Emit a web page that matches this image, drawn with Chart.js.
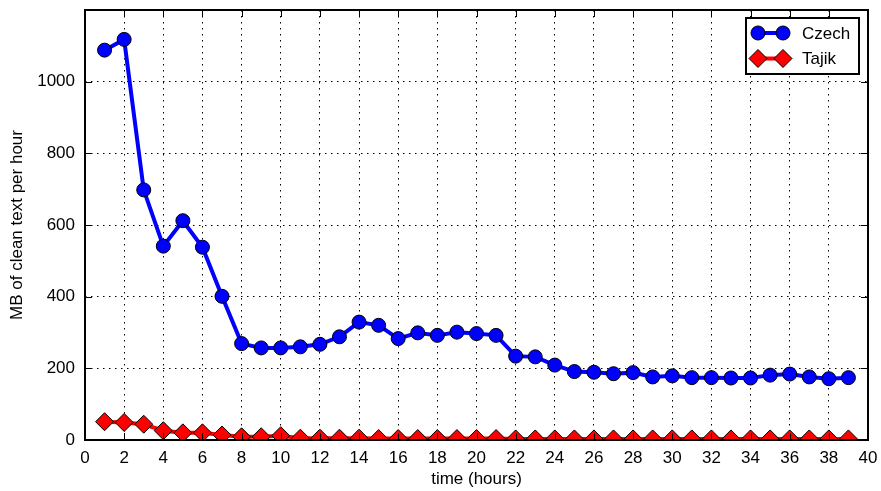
<!DOCTYPE html>
<html>
<head>
<meta charset="utf-8">
<title>MB of clean text per hour</title>
<script src="https://cdn.jsdelivr.net/npm/chart.js@4"></script>
<style>
    html, body { margin: 0; padding: 0; background: #fff; }
    #wrap { position: relative; width: 881px; height: 491px; }
</style>
</head>
<body>
<div id="wrap"><canvas id="chart"></canvas></div>
<script>
const hours = [1, 2, 3, 4, 5, 6, 7, 8, 9, 10, 11, 12, 13, 14, 15, 16, 17, 18, 19, 20,
    21, 22, 23, 24, 25, 26, 27, 28, 29, 30, 31, 32, 33, 34, 35, 36, 37, 38, 39];

const czechMB = [1088, 1118, 698, 541, 612, 538, 401, 269, 257, 257, 260, 267, 288, 329, 320,
    283, 299, 292, 301, 297, 292, 234, 232, 209, 191, 189, 185, 188, 176, 179,
    174, 174, 173, 173, 181, 184, 176, 171, 174];

const tajikMB = [51, 49, 44, 26, 20, 20, 14, 9, 9, 12, 5, 5, 5, 5, 4, 4, 4, 4, 4, 4,
    4, 3, 3, 3, 3, 3, 3, 3, 3, 3, 3, 3, 3, 3, 3, 3, 3, 3, 3];

const xTicks = [0, 2, 4, 6, 8, 10, 12, 14, 16, 18, 20, 22, 24, 26, 28, 30, 32, 34, 36, 38, 40];
const yTicks = [0, 200, 400, 600, 800, 1000];

const FONT = "'Liberation Sans', Arial, Helvetica, sans-serif";

const toPoints = values => values.map((v, i) => ({ x: hours[i], y: v }));

// draws a marker the same way for the plot and the key
const drawMarker = (ctx, style, r, x, y, fill) => {
    ctx.beginPath();
    if (style === 'rectRot') {
        ctx.moveTo(x - r, y);
        ctx.lineTo(x, y - r);
        ctx.lineTo(x + r, y);
        ctx.lineTo(x, y + r);
        ctx.closePath();
    } else {
        ctx.arc(x, y, r, 0, Math.PI * 2);
    }
    ctx.fillStyle = fill;
    ctx.fill();
    ctx.lineWidth = 1;
    ctx.strokeStyle = '#000';
    ctx.stroke();
};

// box frame, inward tick marks and the boxed key in the top right corner
const frameAndKey = {
    id: 'frameAndKey',
    afterDatasetsDraw(chart) {
        const { ctx, chartArea: a, scales: { x, y } } = chart;
        ctx.save();

        ctx.strokeStyle = '#000';
        ctx.lineWidth = 1;
        ctx.beginPath();
        xTicks.forEach(v => {
            const px = Math.round(x.getPixelForValue(v)) + 0.5;
            ctx.moveTo(px, a.bottom); ctx.lineTo(px, a.bottom - 7);
            ctx.moveTo(px, a.top); ctx.lineTo(px, a.top + 7);
        });
        yTicks.forEach(v => {
            const py = Math.round(y.getPixelForValue(v)) + 0.5;
            ctx.moveTo(a.left, py); ctx.lineTo(a.left + 7, py);
            ctx.moveTo(a.right, py); ctx.lineTo(a.right - 7, py);
        });
        ctx.stroke();

        ctx.lineWidth = 2;
        ctx.strokeRect(a.left, a.top, a.right - a.left, a.bottom - a.top);

        // key
        const bw = 113, bh = 56;
        const bx = a.right - bw - 9, by = a.top + 8;
        ctx.fillStyle = '#fff';
        ctx.fillRect(bx, by, bw, bh);
        ctx.lineWidth = 2;
        ctx.strokeStyle = '#000';
        ctx.strokeRect(bx, by, bw, bh);

        chart.data.datasets.forEach((ds, i) => {
            const ly = by + 15 + i * 25.5;
            const x1 = bx + 12, x2 = bx + 37;
            ctx.beginPath();
            ctx.moveTo(x1, ly);
            ctx.lineTo(x2, ly);
            ctx.lineWidth = ds.borderWidth;
            ctx.strokeStyle = ds.borderColor;
            ctx.stroke();
            drawMarker(ctx, ds.pointStyle, ds.pointRadius, x1, ly, ds.pointBackgroundColor);
            drawMarker(ctx, ds.pointStyle, ds.pointRadius, x2, ly, ds.pointBackgroundColor);

            ctx.fillStyle = '#000';
            ctx.font = '17px ' + FONT;
            ctx.textBaseline = 'middle';
            ctx.textAlign = 'left';
            ctx.fillText(ds.label, bx + 56, ly + 1);
        });

        ctx.restore();
    }
};

new Chart(document.getElementById('chart'), {
    type: 'line',
    data: {
        datasets: [{
            label: 'Czech',
            data: toPoints(czechMB),
            borderColor: '#0000ff',
            borderWidth: 4,
            pointStyle: 'circle',
            pointRadius: 7,
            pointBackgroundColor: '#0000ff',
            pointBorderColor: '#000',
            pointBorderWidth: 1,
            tension: 0
        }, {
            label: 'Tajik',
            data: toPoints(tajikMB),
            borderColor: '#ff0000',
            borderWidth: 4,
            pointStyle: 'rectRot',
            pointRadius: 9,
            pointBackgroundColor: '#ff0000',
            pointBorderColor: '#000',
            pointBorderWidth: 1,
            tension: 0
        }]
    },
    options: {
        responsive: true,
        maintainAspectRatio: false,
        animation: false,
        layout: { padding: { top: 10, right: 13, left: 0, bottom: 0 } },
        plugins: {
            legend: { display: false },
            tooltip: { enabled: false }
        },
        scales: {
            x: {
                type: 'linear',
                min: 0,
                max: 40,
                afterBuildTicks: scale => { scale.ticks = xTicks.map(v => ({ value: v })); },
                afterFit: scale => {
                    scale.height = 51;
                    scale.paddingLeft = 0;
                    scale.paddingRight = 0;
                },
                grid: { color: '#000', lineWidth: 1, drawTicks: false },
                border: { display: false, dash: [1.5, 4.5] },
                ticks: { padding: 8, color: '#000', autoSkip: false, maxRotation: 0, font: { family: FONT, size: 17 } },
                title: { display: true, text: 'time (hours)', color: '#000', padding: { top: 2, bottom: 1 }, font: { family: FONT, size: 17 } }
            },
            y: {
                min: 0,
                max: 1200,
                afterBuildTicks: scale => { scale.ticks = yTicks.map(v => ({ value: v })); },
                afterFit: scale => {
                    scale.width = 85;
                    scale.paddingTop = 0;
                    scale.paddingBottom = 0;
                },
                grid: { color: '#000', lineWidth: 1, drawTicks: false },
                border: { display: false, dash: [1.5, 4.5] },
                ticks: { padding: 10, color: '#000', font: { family: FONT, size: 17 }, callback: v => String(v) },
                title: { display: true, text: 'MB of clean text per hour', color: '#000', padding: { top: 7, bottom: 4 }, font: { family: FONT, size: 17 } }
            }
        }
    },
    plugins: [frameAndKey]
});
</script>
</body>
</html>
